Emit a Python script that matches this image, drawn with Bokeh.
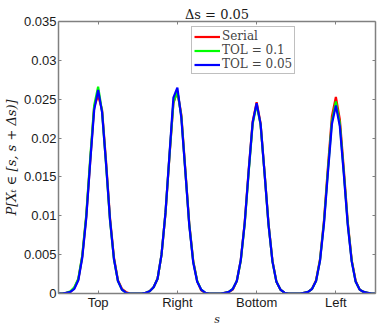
from bokeh.plotting import figure
from bokeh.models import Range1d, FixedTicker, LinearAxis, Legend, LegendItem
from bokeh.embed import file_html
from bokeh.resources import INLINE

# s positions (perimeter parameter, step 0.05)
s_vals = [round(0.05 * i, 2) for i in range(81)]

serial = [
    0.0000, 0.0000, 0.0001, 0.0002, 0.0007, 0.0018, 0.0048, 0.0099, 0.0170, 0.0240,
    0.0255, 0.0236, 0.0170, 0.0097, 0.0046, 0.0017, 0.0006, 0.0002, 0.0000, 0.0000,
    0.0000, 0.0000, 0.0001, 0.0003, 0.0008, 0.0019, 0.0050, 0.0103, 0.0176, 0.0245,
    0.0260, 0.0230, 0.0160, 0.0090, 0.0042, 0.0016, 0.0004, 0.0001, 0.0000, 0.0000,
    0.0000, 0.0000, 0.0001, 0.0002, 0.0005, 0.0016, 0.0043, 0.0092, 0.0159, 0.0221,
    0.0246, 0.0219, 0.0156, 0.0090, 0.0042, 0.0015, 0.0005, 0.0001, 0.0000, 0.0000,
    0.0000, 0.0000, 0.0001, 0.0002, 0.0006, 0.0017, 0.0044, 0.0094, 0.0163, 0.0228,
    0.0253, 0.0224, 0.0160, 0.0092, 0.0043, 0.0016, 0.0005, 0.0002, 0.0001, 0.0000,
    0.0000,
]

tol_01 = [
    0.0000, 0.0000, 0.0001, 0.0003, 0.0008, 0.0019, 0.0049, 0.0101, 0.0174, 0.0242,
    0.0266, 0.0234, 0.0166, 0.0094, 0.0044, 0.0016, 0.0005, 0.0001, 0.0000, 0.0000,
    0.0000, 0.0000, 0.0001, 0.0003, 0.0008, 0.0019, 0.0050, 0.0104, 0.0177, 0.0246,
    0.0260, 0.0228, 0.0158, 0.0089, 0.0041, 0.0016, 0.0005, 0.0001, 0.0000, 0.0000,
    0.0000, 0.0000, 0.0001, 0.0002, 0.0006, 0.0016, 0.0042, 0.0090, 0.0156, 0.0218,
    0.0243, 0.0217, 0.0155, 0.0089, 0.0041, 0.0015, 0.0005, 0.0001, 0.0000, 0.0000,
    0.0000, 0.0000, 0.0001, 0.0002, 0.0006, 0.0016, 0.0043, 0.0092, 0.0159, 0.0222,
    0.0247, 0.0219, 0.0156, 0.0090, 0.0042, 0.0015, 0.0005, 0.0002, 0.0001, 0.0000,
    0.0000,
]

tol_005 = [
    0.0000, 0.0000, 0.0001, 0.0002, 0.0006, 0.0017, 0.0046, 0.0097, 0.0169, 0.0236,
    0.0262, 0.0233, 0.0167, 0.0095, 0.0044, 0.0016, 0.0005, 0.0001, 0.0000, 0.0000,
    0.0000, 0.0000, 0.0001, 0.0003, 0.0008, 0.0019, 0.0050, 0.0104, 0.0178, 0.0252,
    0.0265, 0.0226, 0.0158, 0.0088, 0.0040, 0.0015, 0.0005, 0.0001, 0.0000, 0.0000,
    0.0000, 0.0000, 0.0001, 0.0002, 0.0006, 0.0016, 0.0043, 0.0091, 0.0158, 0.0220,
    0.0245, 0.0218, 0.0155, 0.0089, 0.0041, 0.0015, 0.0005, 0.0001, 0.0000, 0.0000,
    0.0000, 0.0000, 0.0001, 0.0002, 0.0006, 0.0016, 0.0042, 0.0090, 0.0156, 0.0218,
    0.0242, 0.0215, 0.0154, 0.0088, 0.0041, 0.0015, 0.0005, 0.0002, 0.0001, 0.0000,
    0.0000,
]

series_names = ["Serial", "TOL = 0.1", "TOL = 0.05"]
series_colors = ["#ff0000", "#00ff00", "#0000ff"]

x_tick_pos = [0.5, 1.5, 2.5, 3.5]
x_tick_labels = ["Top", "Right", "Bottom", "Left"]
y_ticks = [0, 0.005, 0.01, 0.015, 0.02, 0.025, 0.03, 0.035]
y_tick_labels = ["0", "0.005", "0.01", "0.015", "0.02", "0.025", "0.03", "0.035"]

title_text = "Δs = 0.05"
xlabel_text = "s"
ylabel_text = "P[Xₜ ∈ [s, s + Δs)]"

AX = "#808080"
TXT = "#1a1a1a"

p = figure(width=382, height=328, output_backend="svg", toolbar_location=None,
           x_range=Range1d(0, 4), y_range=Range1d(0, 0.035),
           min_border_left=54, min_border_right=7, min_border_top=21, min_border_bottom=27,
           background_fill_color="white", border_fill_color="white")
p.grid.visible = False
p.outline_line_color = None
p.xaxis.visible = False
p.yaxis.visible = False

p.title.text = title_text
p.title.align = "center"
p.title.text_font = "DejaVu Serif"
p.title.text_font_size = "13px"
p.title.text_font_style = "normal"
p.title.text_color = TXT
p.title.standoff = 0
p.title.offset = 0


def style_axis(ax, show_labels):
    ax.axis_line_color = AX
    ax.axis_line_width = 1.5
    ax.major_tick_line_color = AX
    ax.major_tick_in = 3
    ax.major_tick_out = 0
    ax.minor_tick_line_color = None
    ax.major_label_text_font = "Liberation Sans"
    ax.major_label_text_font_size = "13px"
    ax.major_label_text_color = TXT
    if not show_labels:
        ax.major_label_text_font_size = "0px"
        ax.major_label_text_color = None
        ax.major_label_standoff = 0


xt = FixedTicker(ticks=x_tick_pos)
yt = FixedTicker(ticks=y_ticks)

bx = LinearAxis(ticker=xt, major_label_overrides={v: t for v, t in zip(x_tick_pos, x_tick_labels)})
style_axis(bx, True)
bx.major_label_standoff = 1
bx.axis_label = xlabel_text
bx.axis_label_text_font = "DejaVu Serif"
bx.axis_label_text_font_style = "italic"
bx.axis_label_text_font_size = "11px"
bx.axis_label_text_color = TXT
bx.axis_label_standoff = 0
p.add_layout(bx, "below")

tx = LinearAxis(ticker=xt)
style_axis(tx, False)
p.add_layout(tx, "above")

ly = LinearAxis(ticker=yt, major_label_overrides={v: t for v, t in zip(y_ticks, y_tick_labels)})
style_axis(ly, True)
ly.major_label_standoff = 2
ly.axis_label = ylabel_text
ly.axis_label_text_font = "DejaVu Serif"
ly.axis_label_text_font_style = "italic"
ly.axis_label_text_font_size = "13px"
ly.axis_label_text_color = TXT
ly.axis_label_standoff = 2
p.add_layout(ly, "left")

ry = LinearAxis(ticker=yt)
style_axis(ry, False)
p.add_layout(ry, "right")

renderers = []
for vals, col in zip([serial, tol_01, tol_005], series_colors):
    r = p.line(s_vals, vals, line_color=col, line_width=2.2)
    renderers.append(r)

legend = Legend(items=[LegendItem(label=n, renderers=[r]) for n, r in zip(series_names, renderers)],
                location=(133, 219))
legend.glyph_width = 26
legend.glyph_height = 11
legend.label_height = 11
legend.spacing = -3
legend.padding = 2
legend.margin = 0
legend.label_standoff = 2
legend.label_text_font = "DejaVu Serif"
legend.label_text_font_size = "12px"
legend.label_text_line_height = 0.8
legend.border_line_color = AX
legend.border_line_width = 1.5
legend.background_fill_color = "white"
legend.background_fill_alpha = 1.0
p.add_layout(legend, "center")

open("out.html", "w").write(file_html(p, INLINE))
